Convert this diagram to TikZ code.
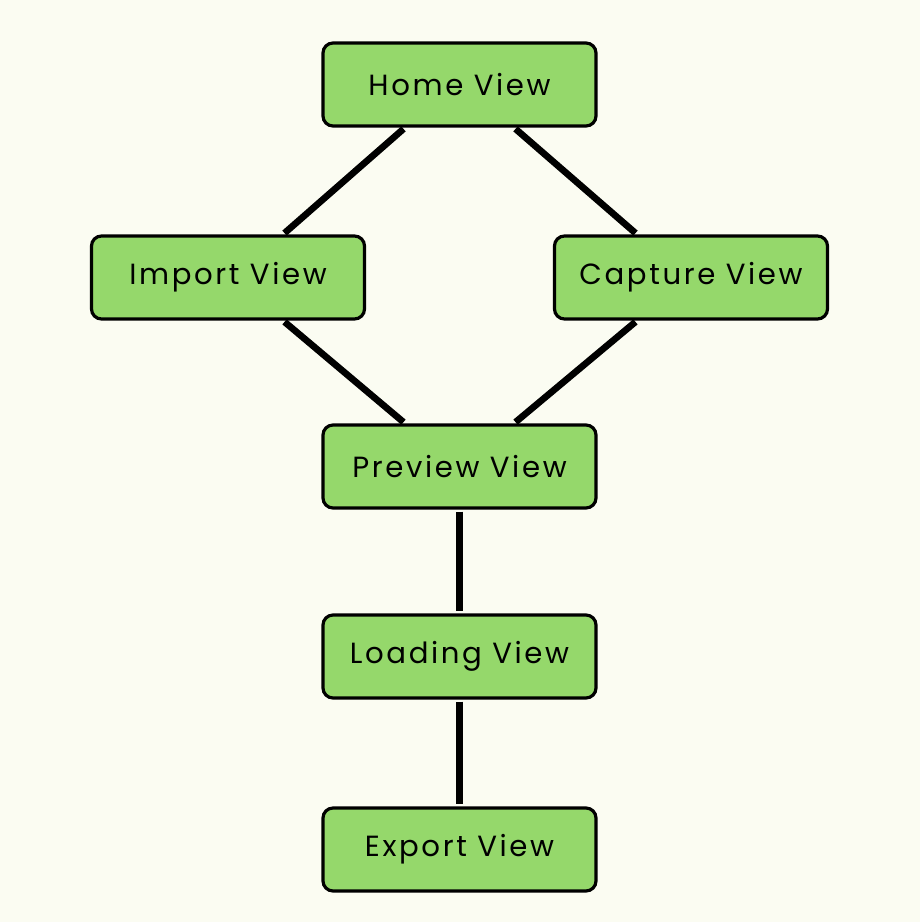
\documentclass[tikz,border=0pt]{standalone}
\usepackage{fontspec}
\setmainfont[LetterSpace=9]{Poppins}
\usetikzlibrary{calc}
\definecolor{pagebg}{HTML}{FBFCF2}
\definecolor{viewgreen}{HTML}{95D86B}
\tikzset{
  view/.style={draw=black,fill=viewgreen,line width=1.8pt,rounded corners=0.2cm,
    minimum width=5.46cm,minimum height=1.66cm,inner sep=0pt,font=\fontsize{16.6}{20}\selectfont},
  link/.style={line width=3.8pt,shorten >=0.04cm,shorten <=0.04cm}
}
\begin{document}
\begin{tikzpicture}
    \fill [pagebg] (0,0) rectangle (18.4,-18.44);
    \useasboundingbox (0,0) rectangle (18.4,-18.44);

    \node [view] (home) at (9.19,-1.69) {Home View};
    \node [view] (import) at (4.56,-5.55) {Import View};
    \node [view] (capture) at (13.82,-5.55) {Capture View};
    \node [view] (preview) at (9.19,-9.33) {Preview View};
    \node [view] (loading) at (9.19,-13.13) {Loading View};
    \node [view] (export) at (9.19,-16.99) {Export View};

    \draw [link] ([xshift=-1.09cm]home.south) -- ([xshift=1.1cm]import.north);
    \draw [link] ([xshift=1.09cm]home.south) -- ([xshift=-1.08cm]capture.north);
    \draw [link] ([xshift=1.1cm]import.south) -- ([xshift=-1.09cm]preview.north);
    \draw [link] ([xshift=-1.08cm]capture.south) -- ([xshift=1.09cm]preview.north);
    \draw [link] (preview) -- (loading);
    \draw [link] (loading) -- (export);
\end{tikzpicture}
\end{document}
